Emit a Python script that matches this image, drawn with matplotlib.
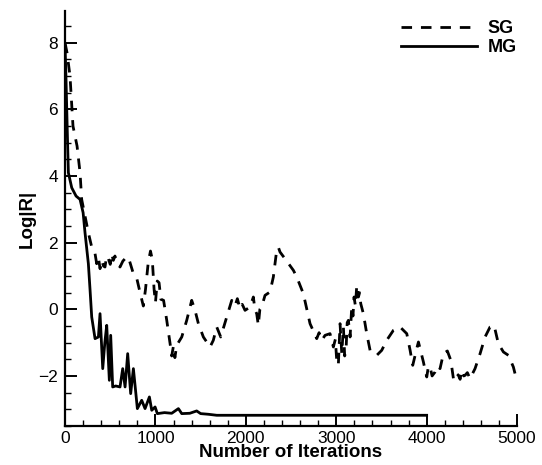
import matplotlib
matplotlib.use("Agg")
import matplotlib.pyplot as plt
from matplotlib.ticker import MultipleLocator

# Single grid (SG) residual history
sg_iter = [0, 22, 55, 77, 88, 133, 166, 184, 221, 258, 295, 332, 350, 370, 387,
           406, 425, 442, 460, 479, 500, 516, 534, 552, 572, 608, 640, 664,
           700, 756, 796, 830, 866, 890, 920, 945, 965, 985, 1000, 1020, 1040,
           1060, 1090, 1125, 1162, 1180, 1199, 1215, 1235, 1291, 1346, 1401,
           1438, 1475, 1530, 1604, 1640, 1678, 1722, 1788, 1844, 1880, 1906,
           1936, 1960, 1991, 2046, 2083, 2100, 2120, 2138, 2155, 2175, 2212,
           2267, 2304, 2341, 2360, 2378, 2433, 2526, 2563, 2636, 2710, 2784,
           2810, 2840, 2876, 2931, 2968, 2990, 3005, 3023, 3042, 3061, 3079,
           3093, 3108, 3121, 3134, 3153, 3171, 3185, 3197, 3212, 3227, 3245,
           3258, 3271, 3300, 3337, 3374, 3448, 3503, 3558, 3632, 3706, 3780,
           3817, 3846, 3890, 3909, 3964, 3985, 4001, 4020, 4038, 4060, 4093,
           4120, 4148, 4185, 4229, 4267, 4296, 4320, 4351, 4370, 4388, 4410,
           4425, 4450, 4480, 4535, 4591, 4646, 4701, 4746, 4793, 4849, 4904,
           4959, 4996]
sg_res = [8.0, 7.7, 7.0, 6.0, 5.5, 4.9, 4.1, 3.3, 2.8, 2.3, 1.87, 1.67, 1.37,
          1.55, 1.22, 1.47, 1.3, 1.27, 1.6, 1.52, 1.35, 1.67, 1.47, 1.6, 1.42,
          1.27, 1.45, 1.52, 1.57, 1.07, 0.9, 0.5, 0.1, 0.6, 1.4, 1.75, 1.5,
          0.6, 0.2, 0.85, 0.8, 0.3, 0.27, -0.33, -1.03, -1.4, -1.1, -1.45,
          -1.08, -0.83, -0.33, 0.27, -0.03, -0.43, -0.83, -1.13, -0.93, -0.53,
          -0.83, -0.23, 0.27, 0.1, 0.32, 0.02, 0.15, -0.03, 0.07, 0.37, 0.0,
          -0.13, -0.48, 0.0, 0.07, 0.42, 0.52, 0.97, 1.77, 1.86, 1.72, 1.52,
          1.17, 0.97, 0.47, -0.43, -0.88, -0.7, -0.93, -0.78, -0.73, -1.13,
          -0.9, -1.53, -1.68, -0.43, -1.33, -0.53, -1.4, -1.23, -0.4, -0.33,
          -0.83, 0.07, -0.2, 0.37, 0.1, 0.72, 0.37, 0.5, 0.17, -0.13, -0.73,
          -1.23, -1.38, -1.23, -0.93, -0.63, -0.53, -0.73, -1.23, -1.68, -1.18,
          -0.98, -1.58, -1.85, -2.03, -1.7, -1.73, -2.0, -1.88, -1.7, -1.78,
          -1.33, -1.25, -1.53, -2.08, -1.9, -1.98, -2.1, -1.83, -2.0, -1.98,
          -1.9, -2.08, -1.78, -1.33, -0.83, -0.53, -0.48, -1.03, -1.28, -1.38,
          -1.73, -2.13]

# Multigrid (MG) residual history
mg_iter = [0, 10, 18, 28, 37, 74, 122, 166, 200, 221, 258, 277, 295, 332, 369,
           387, 417, 440, 461, 490, 505, 527, 560, 608, 638, 664, 693, 726,
           756, 800, 848, 885, 933, 959, 996, 1021, 1100, 1180, 1254, 1291,
           1380, 1456, 1500, 1586, 1678, 1800, 4000]
mg_res = [7.9, 7.0, 6.1, 5.0, 4.1, 3.65, 3.4, 3.3, 2.9, 2.3, 1.37, 0.57, -0.23,
          -0.88, -0.83, -0.13, -1.78, -1.0, -0.48, -2.13, -0.78, -2.33, -2.3,
          -2.33, -1.78, -2.33, -1.33, -2.53, -1.78, -2.98, -2.73, -2.98, -2.63,
          -3.03, -2.93, -3.13, -3.1, -3.12, -2.98, -3.13, -3.12, -3.05, -3.13,
          -3.15, -3.18, -3.18, -3.18]

plt.rcParams['font.family'] = ['Liberation Sans', 'DejaVu Sans']

fig = plt.figure(figsize=(5.42, 4.65), dpi=100)
ax = fig.add_axes([0.12, 0.084, 0.834, 0.892])

ax.plot(sg_iter, sg_res, color="black", lw=2.0, dashes=(3.8, 3.2), label="SG")
ax.plot(mg_iter, mg_res, color="black", lw=2.0, label="MG")

ax.set_xlim(0, 5000)
ax.set_ylim(-3.5, 8.95)
ax.xaxis.set_major_locator(MultipleLocator(1000))
ax.xaxis.set_minor_locator(MultipleLocator(200))
ax.yaxis.set_major_locator(MultipleLocator(2))
ax.yaxis.set_minor_locator(MultipleLocator(0.5))

for s in ["top", "right"]:
    ax.spines[s].set_visible(False)
for s in ["left", "bottom"]:
    ax.spines[s].set_linewidth(1.6)

ax.tick_params(which="major", direction="in", length=8.5, width=1.4, labelsize=12.5)
ax.tick_params(axis="y", which="major", pad=5)
ax.tick_params(which="minor", direction="in", length=4.5, width=1.0)

ax.set_xlabel("Number of Iterations", fontsize=13.5, fontweight="bold", labelpad=-1)
ax.set_ylabel("Log|R|", fontsize=13.5, fontweight="bold", labelpad=2)

leg = ax.legend(loc="upper right", bbox_to_anchor=(1.0, 0.978), frameon=False,
                handlelength=4.2, handletextpad=0.6, labelspacing=0.1,
                borderaxespad=0, borderpad=0, prop={"size": 13, "weight": "bold"})

fig.savefig("out.png", dpi=100)
